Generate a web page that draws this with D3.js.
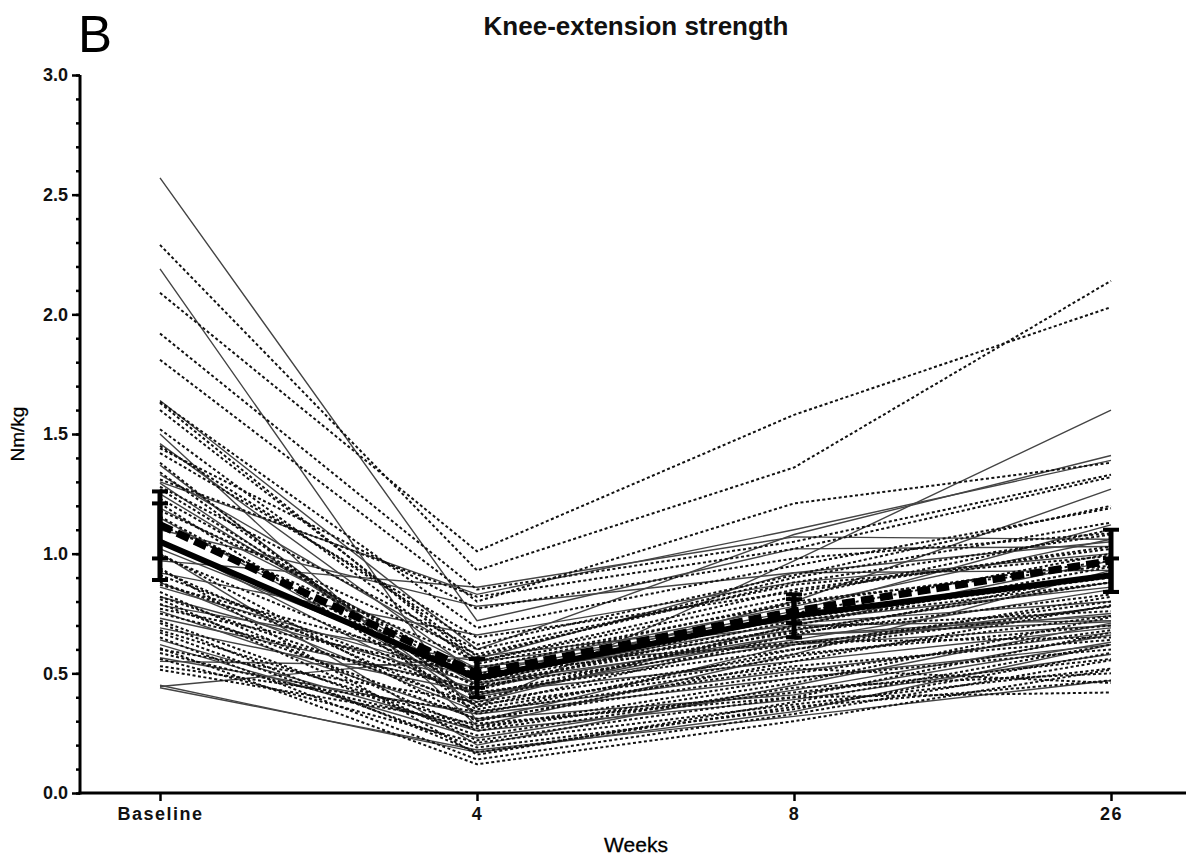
<!DOCTYPE html>
<html>
<head>
<meta charset="utf-8">
<script src="https://cdn.jsdelivr.net/npm/d3@7"></script>
<style>
  body { margin: 0; background: #fff; }
  text { font-family: Arial, "Liberation Sans", sans-serif; }
</style>
</head>
<body>
<div id="chart"></div>
<script>
// time points on the x axis
const categories = ['Baseline', '4', '8', '26']

// individual subjects, solid grey lines: [baseline, wk4, wk8, wk26]
const solidSubjects = [
  [2.57, 0.72, 1.02, 1.03],
  [2.19, 0.30, 0.62, 0.78],
  [1.64, 0.60, 1.08, 1.41],
  [1.37, 0.36, 0.97, 1.60],
  [1.30, 0.83, 1.10, 1.39],
  [1.25, 0.45, 0.80, 1.27],
  [0.97, 0.86, 1.07, 1.06],
  [0.92, 0.66, 0.88, 1.00],
  [0.785, 0.55, 0.70, 0.72],
  [0.69, 0.42, 0.55, 0.69],
  [0.565, 0.33, 0.48, 0.62],
  [0.55, 0.53, 0.62, 0.70],
  [0.445, 0.57, 0.72, 0.86],
  [0.44, 0.18, 0.32, 0.47],
  [0.45, 0.17, 0.34, 0.62],
  [1.50, 0.28, 0.58, 0.93],
  [1.06, 0.38, 0.70, 0.97],
  [1.19, 0.52, 0.78, 1.06],
  [0.82, 0.46, 0.64, 0.85],
  [0.76, 0.31, 0.41, 0.63],
  [1.10, 0.78, 0.92, 0.93],
  [0.62, 0.23, 0.43, 0.66],
  [1.00, 0.20, 0.45, 0.71],
  [0.86, 0.48, 0.71, 0.80],
  [1.46, 0.50, 0.76, 1.12],
  [1.295, 0.40, 0.66, 0.715],
  [1.15, 0.41, 0.63, 0.75],
  [0.88, 0.34, 0.51, 0.67],
  [0.73, 0.44, 0.66, 0.74],
  [1.33, 0.56, 0.92, 1.05],
  [0.64, 0.26, 0.39, 0.58],
  [1.02, 0.49, 0.68, 0.88]
]

// individual subjects, dotted lines
const dottedSubjects = [
  [2.09, 1.01, 1.58, 2.03],
  [2.29, 0.93, 1.36, 2.14],
  [1.92, 0.85, 1.05, 1.33],
  [1.81, 0.80, 1.21, 1.38],
  [1.635, 0.69, 0.95, 1.19],
  [1.60, 0.57, 0.90, 1.13],
  [1.44, 0.77, 0.98, 1.085],
  [1.42, 0.65, 0.84, 1.03],
  [1.34, 0.39, 0.70, 0.945],
  [1.31, 0.82, 1.02, 1.32],
  [1.21, 0.36, 0.66, 0.92],
  [1.155, 0.44, 0.72, 0.88],
  [1.00, 0.30, 0.55, 0.785],
  [0.84, 0.26, 0.46, 0.735],
  [0.81, 0.22, 0.40, 0.67],
  [0.77, 0.50, 0.63, 0.65],
  [0.67, 0.19, 0.35, 0.585],
  [0.65, 0.14, 0.33, 0.555],
  [0.605, 0.12, 0.30, 0.515],
  [0.585, 0.27, 0.48, 0.60],
  [0.53, 0.34, 0.52, 0.46],
  [0.515, 0.29, 0.40, 0.42],
  [1.28, 0.60, 0.87, 0.99],
  [0.88, 0.41, 0.68, 0.88],
  [1.05, 0.47, 0.69, 0.76],
  [0.72, 0.24, 0.44, 0.50],
  [0.94, 0.16, 0.38, 0.62],
  [1.38, 0.33, 0.60, 0.82],
  [0.60, 0.38, 0.58, 0.70],
  [0.75, 0.43, 0.75, 1.00],
  [1.63, 0.55, 0.82, 1.10],
  [1.45, 0.62, 0.91, 1.20],
  [0.99, 0.45, 0.62, 0.80],
  [0.93, 0.35, 0.57, 0.74],
  [0.87, 0.52, 0.80, 0.95],
  [1.12, 0.55, 0.85, 1.02],
  [0.79, 0.31, 0.50, 0.68],
  [0.68, 0.28, 0.42, 0.56],
  [0.56, 0.21, 0.37, 0.52],
  [1.23, 0.49, 0.73, 0.90],
  [0.91, 0.42, 0.60, 0.78],
  [1.18, 0.58, 0.88, 1.08],
  [0.71, 0.17, 0.36, 0.47],
  [1.27, 0.46, 0.67, 0.83],
  [0.82, 0.37, 0.53, 0.64],
  [1.52, 0.54, 0.79, 0.97]
]

// group means and error (half width of the bars)
const meanSolid = [1.05, 0.48, 0.74, 0.91]
const errSolid = [0.16, 0.08, 0.09, 0.07]
const meanDashed = [1.12, 0.50, 0.76, 0.97]
const errDashed = [0.14, 0.06, 0.05, 0.13]

const yMajorTicks = [0, 0.5, 1.0, 1.5, 2.0, 2.5, 3.0]
const yMinorTicks = d3.range(0, 3.01, 0.1)

const width = 1188, height = 857

let svg = d3.select('#chart')
  .append('svg')
  .attr('width', width)
  .attr('height', height)

let x = d3.scalePoint()
  .domain(categories)
  .range([160, 1111])

let y = d3.scaleLinear()
  .domain([0, 3])
  .range([793, 75])

let line = d3.line()
  .x((d, i) => x(categories[i]))
  .y(d => y(d))

// subjects
svg.append('g').selectAll('path')
  .data(solidSubjects)
  .join('path')
    .attr('d', line)
    .attr('fill', 'none')
    .attr('stroke', '#444')
    .attr('stroke-width', 1.4)

svg.append('g').selectAll('path')
  .data(dottedSubjects)
  .join('path')
    .attr('d', line)
    .attr('fill', 'none')
    .attr('stroke', '#111')
    .attr('stroke-width', 2)
    .attr('stroke-dasharray', '3,2.5')

// mean lines
svg.append('path')
  .attr('d', line(meanDashed))
  .attr('fill', 'none')
  .attr('stroke', '#000')
  .attr('stroke-width', 7.5)
  .attr('stroke-dasharray', '13,6')

svg.append('path')
  .attr('d', line(meanSolid))
  .attr('fill', 'none')
  .attr('stroke', '#000')
  .attr('stroke-width', 6)

// error bars
let drawErr = (means, errs) => {
  let g = svg.append('g')
    .attr('stroke', '#000')
  means.forEach((m, i) => {
    let cx = x(categories[i])
    g.append('line')
      .attr('x1', cx).attr('x2', cx)
      .attr('y1', y(m - errs[i])).attr('y2', y(m + errs[i]))
      .attr('stroke-width', 5)
    ;[m - errs[i], m + errs[i]].forEach(v => {
      g.append('line')
        .attr('x1', cx - 8).attr('x2', cx + 8)
        .attr('y1', y(v)).attr('y2', y(v))
        .attr('stroke-width', 4)
    })
  })
}
drawErr(meanSolid, errSolid)
drawErr(meanDashed, errDashed)

// y axis
let yAxis = svg.append('g')
  .attr('transform', 'translate(80,0)')

yAxis.call(d3.axisLeft(y).tickValues(yMinorTicks).tickSize(4).tickFormat(''))
  .call(g => g.select('.domain').remove())
  .call(g => g.selectAll('.tick line').attr('stroke-width', 2.5))

yAxis.append('g')
  .call(d3.axisLeft(y).tickValues(yMajorTicks).tickSize(8).tickFormat(d3.format('.1f')))
  .call(g => g.select('.domain').remove())
  .call(g => g.selectAll('.tick line').attr('stroke-width', 2.5))
  .call(g => g.selectAll('.tick text')
    .attr('x', -12)
    .attr('font-size', '18px')
    .attr('font-weight', 'bold')
    .attr('fill', '#111'))

yAxis.append('line')
  .attr('x1', 0).attr('x2', 0)
  .attr('y1', y(3)).attr('y2', y(0) + 1.5)
  .attr('stroke', '#000')
  .attr('stroke-width', 3)

// x axis
let xAxis = svg.append('g')
  .attr('transform', `translate(0,${y(0)})`)

xAxis.call(d3.axisBottom(x).tickSize(8).tickSizeOuter(0))
  .call(g => g.select('.domain').remove())
  .call(g => g.selectAll('.tick line').attr('stroke-width', 2.5))
  .call(g => g.selectAll('.tick text')
    .attr('y', 14)
    .attr('font-size', '18px')
    .attr('font-weight', 'bold')
    .attr('letter-spacing', '1.5px')
    .attr('fill', '#111'))

xAxis.append('line')
  .attr('x1', 78.5).attr('x2', 1186)
  .attr('y1', 0).attr('y2', 0)
  .attr('stroke', '#000')
  .attr('stroke-width', 3)

// texts
svg.append('text')
  .attr('x', 636).attr('y', 35)
  .attr('text-anchor', 'middle')
  .attr('font-size', '26px')
  .attr('font-weight', 'bold')
  .attr('fill', '#111')
  .text('Knee-extension strength')

svg.append('text')
  .attr('x', 78).attr('y', 52)
  .attr('font-size', '51px')
  .attr('fill', '#000')
  .text('B')

svg.append('text')
  .attr('transform', 'translate(24,434) rotate(-90)')
  .attr('text-anchor', 'middle')
  .attr('font-size', '19px')
  .attr('fill', '#000')
  .attr('stroke', '#000')
  .attr('stroke-width', 0.3)
  .text('Nm/kg')

svg.append('text')
  .attr('x', 636).attr('y', 852)
  .attr('text-anchor', 'middle')
  .attr('font-size', '21px')
  .attr('fill', '#000')
  .attr('stroke', '#000')
  .attr('stroke-width', 0.3)
  .text('Weeks')
</script>
</body>
</html>
